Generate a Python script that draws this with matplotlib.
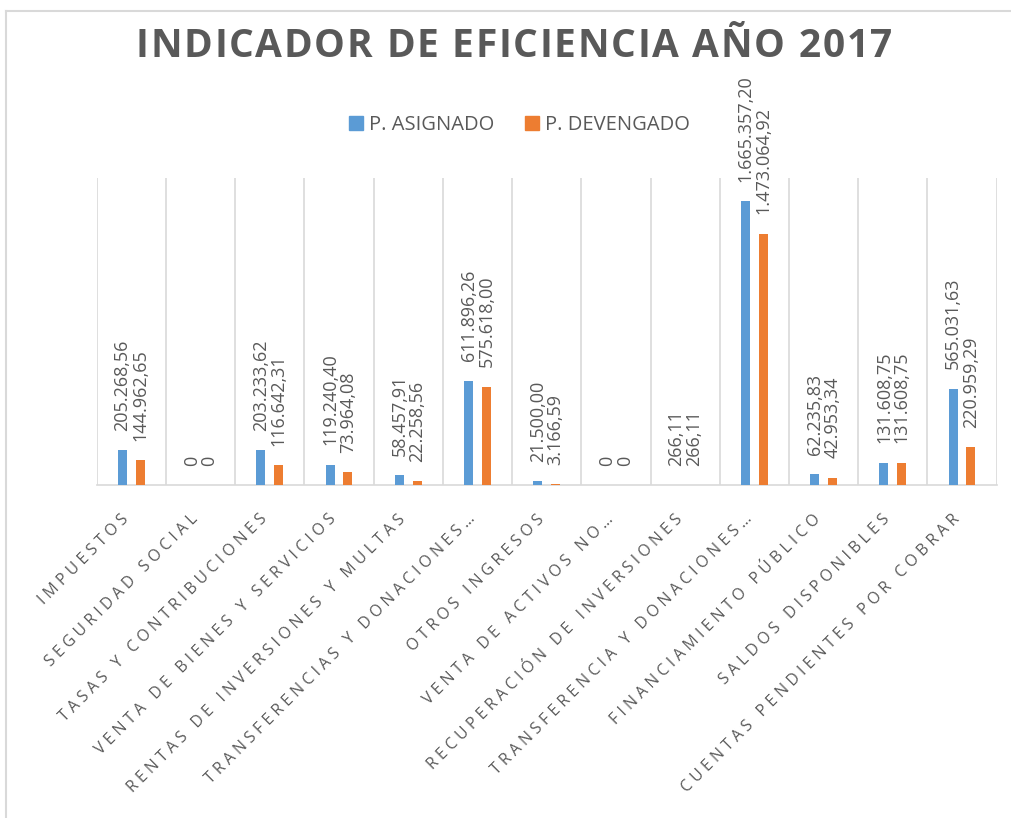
import matplotlib
matplotlib.use("Agg")
import matplotlib.pyplot as plt
import matplotlib.transforms as mtrans
from matplotlib.lines import Line2D
from matplotlib.patches import Patch
from matplotlib.textpath import TextToPath
from matplotlib.font_manager import FontProperties

categories = [
    "IMPUESTOS",
    "SEGURIDAD SOCIAL",
    "TASAS Y CONTRIBUCIONES",
    "VENTA DE BIENES Y SERVICIOS",
    "RENTAS DE INVERSIONES Y MULTAS",
    "TRANSFERENCIAS Y DONACIONES…",
    "OTROS INGRESOS",
    "VENTA DE ACTIVOS NO…",
    "RECUPERACIÓN DE INVERSIONES",
    "TRANSFERENCIA Y DONACIONES…",
    "FINANCIAMIENTO PÚBLICO",
    "SALDOS DISPONIBLES",
    "CUENTAS PENDIENTES POR COBRAR",
]
asignado = [205268.56, 0, 203233.62, 119240.40, 58457.91, 611896.26, 21500.00,
            0, 266.11, 1665357.20, 62235.83, 131608.75, 565031.63]
devengado = [144962.65, 0, 116642.31, 73964.08, 22258.56, 575618.00, 3166.59,
             0, 266.11, 1473064.92, 42953.34, 131608.75, 220959.29]
series_names = ["P. ASIGNADO", "P. DEVENGADO"]
title_text = "INDICADOR DE EFICIENCIA AÑO 2017"

BLUE = "#5B9BD5"
ORANGE = "#ED7D31"
TXT = "#595959"
GRID = "#D9D9D9"
FAM = ["Open Sans", "DejaVu Sans"]
DPI = 100


def fmt(v):
    if v == 0:
        return "0"
    s = f"{v:,.2f}"
    return s.replace(",", "X").replace(".", ",").replace("X", ".")


def spaced(s, sp="\u2009\u200a"):
    return sp.join(s)


fig = plt.figure(figsize=(10.11, 8.18), dpi=DPI)
W, H = 1011, 818
ax = fig.add_axes([96.7 / W, 1 - 485 / H, 900 / W, 307 / H])

n = len(categories)
x = list(range(n))
off = 0.128
bw = 0.13
ax.bar([i - off for i in x], asignado, width=bw, color=BLUE, zorder=3)
ax.bar([i + off for i in x], devengado, width=bw, color=ORANGE, zorder=3)

for i in x:
    for dx, vals in ((-off, asignado), (off, devengado)):
        ax.annotate(fmt(vals[i]), (i + dx, vals[i]), xytext=(0, 14),
                    textcoords="offset points", rotation=90, ha="center",
                    va="bottom", color=TXT, fontsize=13, family=FAM,
                    annotation_clip=False)

ax.set_xlim(-0.5, n - 0.5)
ax.set_ylim(0, 1.8e6)
ax.set_yticks([])
for s in ["top", "right", "left"]:
    ax.spines[s].set_visible(False)
ax.spines["bottom"].set_color(GRID)
ax.spines["bottom"].set_linewidth(1.2)
for b in [i - 0.5 for i in range(n + 1)]:
    ax.axvline(b, color=GRID, lw=1.2, zorder=1)

ax.set_xticks(x)
ax.set_xticklabels([spaced(c) for c in categories], rotation=45, ha="right",
                   va="center", rotation_mode="anchor", fontsize=11.3,
                   color=TXT, family=FAM)
ax.tick_params(axis="x", length=0, pad=23)
shift = mtrans.ScaledTranslation(-5 / DPI, 0, fig.dpi_scale_trans)
for lab in ax.get_xticklabels():
    lab.set_transform(lab.get_transform() + shift)

# Title with letter tracking
tp = TextToPath()
tprop = FontProperties(family="Open Sans", weight="bold", size=28)


def wpx(s):
    return tp.get_text_width_height_descent(s, tprop, ismath=False)[0] * DPI / 72


base = wpx("II")
advs = [wpx("I" + c + "I") - base for c in title_text]
track = 1.7
total = sum(advs) + track * (len(advs) - 1)
cx = 514 - total / 2
for c, a in zip(title_text, advs):
    if c != " ":
        fig.text((cx + a / 2) / W, 1 - 57 / H, c, ha="center", va="baseline",
                 fontsize=28, fontweight="bold", color=TXT, family=FAM)
    cx += a + track

handles = [Patch(color=BLUE), Patch(color=ORANGE)]
leg = fig.legend(handles, series_names, loc="center",
                 bbox_to_anchor=(519.5 / W, 1 - 125 / H), ncol=2, frameon=False,
                 handlelength=0.7, handleheight=0.7, handletextpad=0.3,
                 columnspacing=1.5, prop={"family": FAM, "size": 14.5})
for t in leg.get_texts():
    t.set_color(TXT)

fig.add_artist(Line2D([5.5 / W, 5.5 / W], [0, 1 - 11 / H], color=GRID, lw=1.5,
                      transform=fig.transFigure))
fig.add_artist(Line2D([5.5 / W, 1], [1 - 11 / H, 1 - 11 / H], color=GRID, lw=1.5,
                      transform=fig.transFigure))

fig.savefig("out.png", dpi=DPI)
